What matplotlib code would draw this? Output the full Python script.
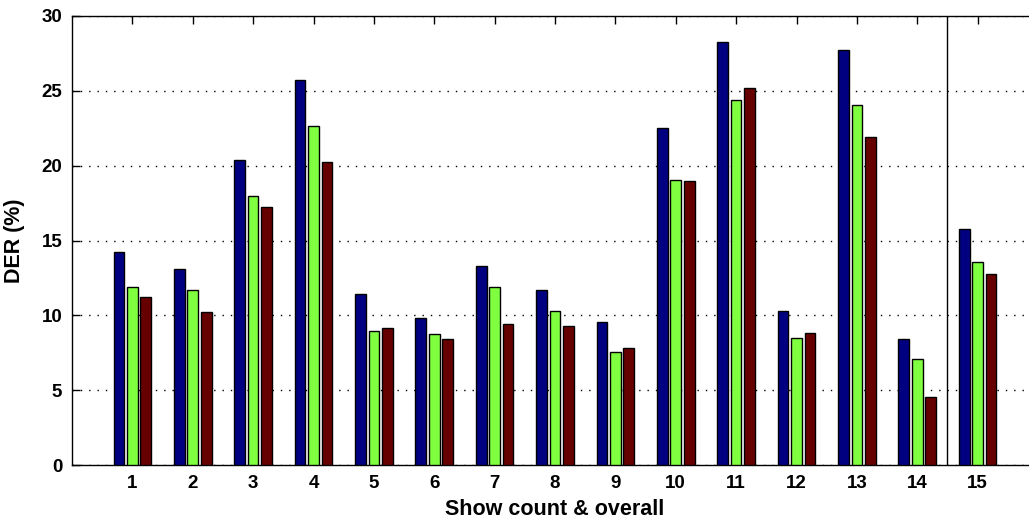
import numpy as np
import matplotlib
matplotlib.use('Agg')
import matplotlib.pyplot as plt

# DER (%) per show, three systems; group 15 = overall
groups = list(range(1, 16))
sys_a = [14.26, 13.12, 20.35, 25.75, 11.43, 9.82, 13.30, 11.69, 9.55,
         22.54, 28.29, 10.29, 27.74, 8.41, 15.76]
sys_b = [11.89, 11.69, 18.00, 22.62, 8.97, 8.77, 11.89, 10.29, 7.56,
         19.06, 24.41, 8.48, 24.06, 7.09, 13.59]
sys_c = [11.22, 10.20, 17.25, 20.26, 9.15, 8.41, 9.44, 9.26, 7.83,
         18.97, 25.17, 8.79, 21.89, 4.55, 12.74]
colors = ['#000080', '#80FF40', '#660000']

plt.rcParams['font.family'] = ['Liberation Sans', 'DejaVu Sans']
plt.rcParams['font.weight'] = 'bold'


def main():
    fig = plt.figure(figsize=(10.29, 5.25), dpi=100)
    ax = fig.add_axes([72 / 1029, 60 / 525, 966 / 1029, 449 / 525])

    x = np.array(groups)
    step = 0.222
    width = 0.178
    for i, vals in enumerate([sys_a, sys_b, sys_c]):
        ax.bar(x + (i - 1) * step, vals, width, color=colors[i],
               edgecolor='black', linewidth=1.0, zorder=3)

    ax.axvline(14.5, color='black', linewidth=1.0, zorder=4)

    ax.set_xlim(0, 16)
    ax.set_ylim(0, 30)
    ax.set_xticks(groups)
    ax.set_yticks(range(0, 31, 5))
    ax.yaxis.grid(True, linestyle=(0, (1, 5)), color='black', linewidth=1.0)
    ax.set_axisbelow(True)
    ax.tick_params(direction='in', length=6, top=True, right=False,
                   labelsize=13.5, width=1.0, pad=7)
    for s in ax.spines.values():
        s.set_linewidth(1.0)

    ax.set_xlabel('Show count & overall', fontsize=15.5, fontweight='bold',
                  labelpad=5)
    ax.set_ylabel('DER (%)', fontsize=15.5, fontweight='bold', labelpad=12)

    fig.savefig('out.png', dpi=100)


if __name__ == '__main__':
    main()
